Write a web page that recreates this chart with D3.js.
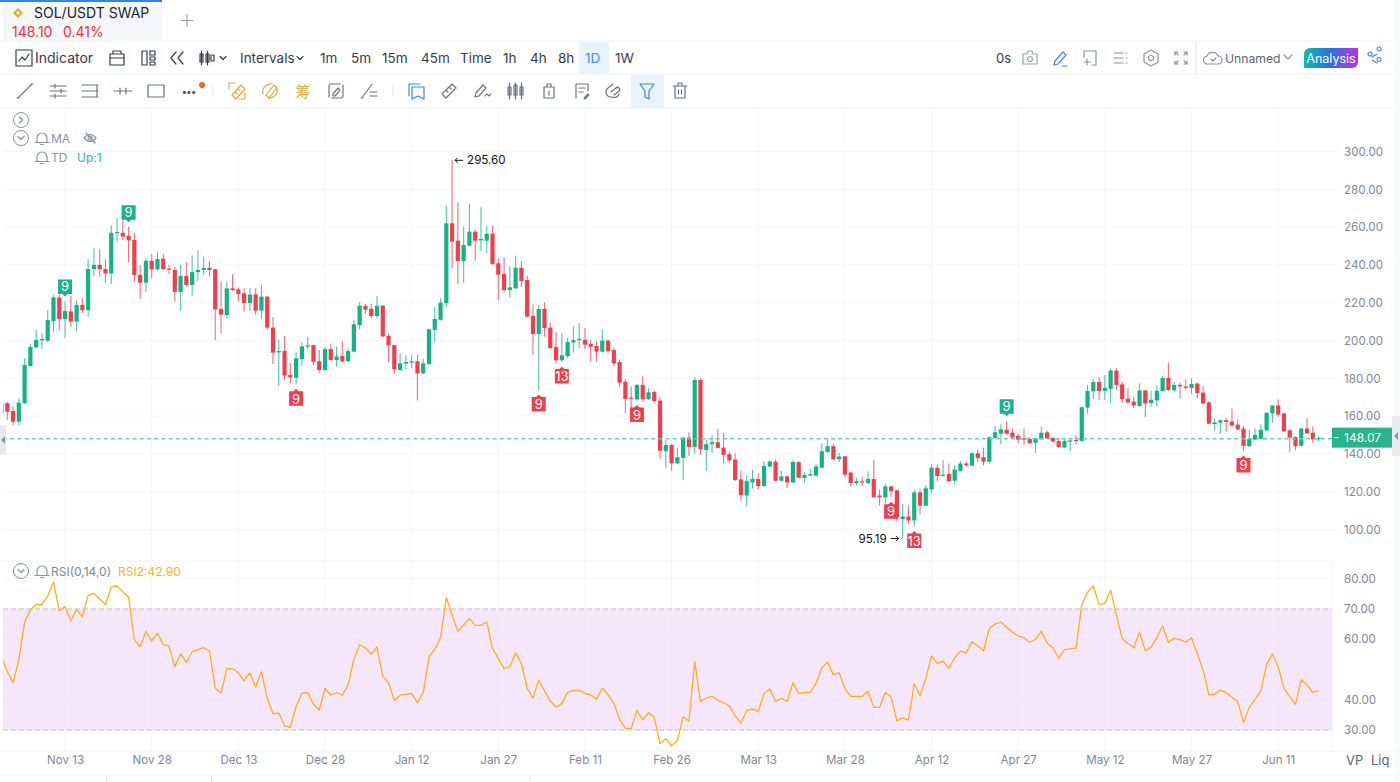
<!DOCTYPE html>
<html lang="en">
<head>
<meta charset="UTF-8"/>
<title>SOL/USDT SWAP</title>
<script src="https://d3js.org/d3.v7.min.js"></script>
<style>
  html, body { margin: 0; padding: 0; background: #fff; overflow: hidden; }
  svg { display: block; font-family: Inter, 'Noto Sans', sans-serif; }
  .axis path.domain, .axis line { display: none; }
  .axis text { fill: #7f8896; font-size: 11.6px; font-family: Inter, sans-serif; }
  .grid line { stroke: #f5f6f8; stroke-width: 1; }
  .bar-text { fill: #333c49; font-size: 13.5px; }
  .icon { fill: none; stroke: #5b6573; stroke-width: 1.2; stroke-linejoin: round; stroke-linecap: round; }
</style>
</head>
<body>
<svg id="chart" width="1400" height="782"></svg>
<script>
const firstDay = '2024-11-02';
const lastDay = '2025-06-18';

const opens = [
  166.8,166.8,162.7,157.0,166.8,186.5,196.4,200.1,199.9,210.3,
  222.8,211.4,215.4,210.0,218.8,216.0,237.8,240.0,237.8,235.5,
  256.9,257.0,255.3,253.2,234.7,230.6,242.2,237.7,243.3,238.0,
  237.3,225.7,234.1,229.4,236.2,237.3,238.5,237.7,216.7,213.5,
  227.6,227.1,225.0,219.8,224.4,215.8,223.2,206.8,193.7,194.4,
  181.8,180.3,190.2,196.8,197.6,189.0,184.4,195.5,189.7,191.8,
  189.0,194.1,208.2,218.3,216.8,213.0,218.4,202.4,197.6,184.4,
  187.8,188.3,189.0,182.6,187.6,205.6,210.9,219.7,262.0,252.8,
  242.1,250.2,257.6,253.0,252.8,256.5,240.8,235.2,226.7,227.6,
  238.5,232.0,213.0,203.4,216.7,206.8,196.6,189.5,191.8,199.0,
  200.3,200.3,198.2,197.1,194.1,199.9,195.0,188.6,178.2,169.8,
  168.9,176.5,168.9,172.8,168.2,141.5,144.7,135.0,137.9,148.7,
  143.7,179.1,142.1,145.1,146.2,143.3,139.8,137.0,126.5,118.0,
  124.9,126.7,123.0,133.3,135.9,125.8,128.1,124.9,135.6,127.3,
  128.5,128.5,132.7,141.1,144.1,137.2,138.7,130.1,124.6,125.5,
  124.6,126.7,118.0,117.0,122.8,120.7,105.5,106.9,104.8,119.6,
  112.6,121.2,132.7,128.3,129.4,125.8,131.0,134.9,133.8,140.3,
  138.2,135.9,148.5,150.7,152.8,151.2,149.5,148.2,147.9,145.9,
  147.7,151.4,148.4,146.8,143.4,146.4,147.5,146.8,164.5,173.1,
  178.0,173.4,174.5,184.1,176.8,169.2,167.6,165.4,173.6,166.9,
  168.3,173.3,180.2,173.6,176.5,175.7,174.9,177.2,172.4,167.2,
  155.8,156.6,157.8,157.1,155.5,153.4,144.1,147.5,148.0,152.5,
  161.4,165.6,161.4,152.5,148.9,144.3,153.4,151.2,147.9
];
const closes = [
  161.5,162.3,157.0,167.1,187.0,196.6,200.3,200.8,210.8,222.8,
  211.4,215.6,210.0,218.8,216.0,237.8,240.0,237.8,235.5,257.0,
  257.4,255.0,253.0,234.7,230.6,242.2,237.7,243.1,237.7,237.5,
  225.7,234.1,229.4,236.2,237.3,238.4,237.3,216.5,213.7,227.6,
  226.7,224.6,219.8,224.3,215.8,223.2,206.8,193.6,194.4,181.4,
  180.5,190.6,196.9,197.5,188.8,184.4,195.5,189.7,191.6,189.0,
  194.4,208.6,218.4,216.3,213.0,218.4,202.2,197.4,184.8,187.9,
  188.6,189.0,182.6,187.9,205.9,211.4,220.0,262.0,252.3,242.1,
  250.5,257.6,252.8,253.7,256.5,240.5,234.8,226.7,228.1,238.5,
  231.5,212.6,203.4,216.7,206.6,196.0,189.5,192.2,199.2,200.3,
  200.8,197.8,196.7,194.1,199.9,194.4,187.9,177.7,169.1,169.2,
  176.5,168.9,172.6,168.0,141.7,144.7,135.0,138.2,148.7,143.7,
  179.1,142.5,145.1,146.2,143.2,139.5,136.6,126.2,118.2,125.6,
  126.7,123.0,133.6,135.9,125.8,128.1,124.9,135.7,127.4,128.8,
  129.2,133.4,141.4,144.1,137.2,138.6,129.0,124.6,125.6,124.9,
  126.7,117.1,117.1,122.8,120.3,106.5,106.9,104.8,119.6,112.6,
  121.8,132.7,128.3,129.0,125.6,131.7,134.9,134.0,140.3,137.9,
  135.9,148.8,151.5,153.0,150.7,148.7,147.5,147.7,145.7,148.2,
  151.2,148.2,146.6,143.6,146.8,147.1,146.8,164.7,173.3,178.0,
  173.3,174.9,184.1,176.5,169.0,167.2,165.6,173.6,166.7,168.6,
  173.4,180.2,173.8,176.5,175.7,175.0,177.0,172.2,166.7,156.0,
  156.7,157.8,156.9,155.1,153.0,144.3,148.0,150.0,152.8,161.7,
  165.6,160.8,151.9,148.6,144.1,153.4,150.9,147.7,148.4
];
const highs = [
  167.6,167.6,165.3,169.4,190.6,198.1,205.6,203.8,216.0,224.4,
  224.4,220.9,223.5,221.4,222.3,243.0,248.8,248.2,243.0,261.0,
  264.8,267.3,260.2,257.0,240.0,243.5,245.8,247.0,245.8,240.0,
  239.1,240.0,241.4,245.1,247.7,244.4,242.1,238.0,231.1,231.0,
  235.0,228.1,227.6,227.6,227.6,229.4,223.5,212.3,200.3,202.4,
  187.9,194.1,199.2,202.0,197.6,195.0,196.7,198.0,196.7,199.6,
  195.7,210.9,220.2,219.3,219.3,223.5,218.8,203.8,197.6,193.2,
  192.2,192.2,192.3,190.4,206.4,217.6,222.3,271.2,295.6,273.1,
  260.2,272.2,258.8,270.5,260.6,260.6,243.5,244.0,239.1,244.9,
  242.1,234.3,219.1,218.8,220.2,209.4,204.3,203.8,201.5,207.7,
  209.3,206.6,200.3,199.4,205.6,200.6,195.9,190.0,179.5,175.6,
  177.0,180.9,174.9,173.5,169.8,147.4,145.2,143.3,148.7,151.5,
  180.5,180.0,147.6,149.9,153.3,151.1,141.2,140.2,131.3,128.7,
  131.7,129.9,136.3,136.6,137.0,131.0,128.7,136.6,136.3,130.3,
  132.2,134.5,145.5,148.1,145.5,140.5,138.7,130.4,127.4,127.8,
  130.8,136.6,121.0,124.2,123.2,121.0,113.6,112.7,121.1,121.6,
  123.4,134.5,134.0,136.6,134.9,134.0,136.3,135.9,141.0,142.3,
  143.3,149.4,154.7,155.7,157.5,153.4,150.7,153.4,148.9,148.6,
  154.3,152.5,148.9,148.4,148.6,148.0,149.8,164.7,176.5,179.5,
  180.5,181.8,185.3,185.3,178.2,174.7,170.2,177.3,173.8,173.4,
  176.5,181.3,188.4,178.2,177.7,179.5,180.0,177.9,175.9,167.9,
  158.7,158.2,159.0,164.0,158.2,154.8,152.8,153.4,155.7,162.1,
  165.8,168.8,161.9,152.8,149.3,153.9,159.0,154.6,149.3
];
const lows = [
  159.7,157.9,155.3,155.3,166.4,186.2,196.0,195.5,199.2,204.7,
  205.4,201.2,207.3,204.9,214.6,212.6,234.1,233.8,230.6,229.9,
  251.8,253.2,241.4,231.1,222.1,225.8,233.1,237.0,237.7,235.2,
  220.6,215.6,228.5,223.6,231.5,234.5,233.8,200.3,203.8,211.7,
  226.2,220.6,215.4,215.8,213.5,211.4,205.6,187.6,175.9,179.1,
  177.3,176.8,186.7,195.5,187.0,183.0,184.0,189.3,186.2,188.3,
  188.3,193.8,205.9,214.0,211.7,211.7,201.9,188.6,182.3,184.0,
  184.6,185.5,168.2,182.3,187.2,198.9,210.5,217.9,238.2,229.7,
  230.6,249.7,242.2,247.4,246.1,240.0,221.1,225.3,222.8,227.1,
  228.5,212.3,192.3,173.8,202.0,195.5,187.8,188.6,190.9,193.7,
  195.9,195.5,188.8,188.8,193.7,193.7,186.5,175.2,161.5,163.8,
  168.2,168.0,168.5,167.1,137.7,132.4,131.1,134.7,126.0,138.9,
  140.2,139.6,131.0,140.5,142.8,134.9,135.7,125.7,115.4,112.2,
  121.6,121.1,122.6,132.7,125.7,125.7,122.1,124.6,127.3,124.9,
  128.3,128.1,132.4,140.5,136.6,135.7,127.6,122.8,123.3,123.0,
  123.9,117.1,112.6,113.6,117.1,104.1,95.19,103.0,101.6,108.3,
  112.4,119.6,125.6,128.1,125.3,123.7,130.6,133.1,133.4,135.7,
  134.0,134.9,148.1,145.0,150.2,147.9,145.7,144.7,145.0,140.6,
  147.5,147.9,146.1,143.4,143.1,141.5,145.0,146.4,161.4,169.0,
  168.5,168.5,166.7,173.8,167.0,166.7,164.4,164.9,159.6,164.9,
  165.3,172.9,173.4,172.9,169.3,174.1,171.7,169.3,166.3,155.5,
  152.5,150.7,151.9,154.3,152.5,141.5,143.6,147.1,147.7,152.1,
  156.6,159.6,151.6,140.9,141.8,144.0,150.7,145.9,146.8
];
const rsiValues = [
  54.2,49.3,45.6,53.1,65.8,69.7,71.5,71.5,74.3,79.0,
  69.4,70.8,66.0,69.9,67.4,74.5,75.2,73.3,71.5,77.2,
  77.6,75.7,73.9,59.8,57.5,62.6,59.5,62.0,58.2,57.8,
  50.9,55.1,52.4,55.8,56.6,57.2,56.2,43.9,42.1,50.4,
  50.3,48.9,46.2,48.9,44.2,49.3,40.5,35.4,35.6,31.4,
  30.9,37.7,42.1,42.4,38.5,36.6,43.8,41.5,42.4,41.5,
  45.0,53.4,58.2,57.1,55.0,57.5,47.8,45.6,39.8,41.5,
  41.8,42.1,39.0,42.3,54.2,56.7,60.5,73.7,68.0,62.6,
  64.7,66.9,64.6,64.6,65.7,57.0,53.7,50.3,51.0,55.5,
  52.0,43.8,40.5,46.5,43.0,39.5,37.5,38.8,42.4,43.1,
  43.1,42.1,41.6,40.2,43.9,41.6,38.8,33.6,30.5,30.5,
  36.4,33.4,35.7,34.1,25.5,27.1,24.8,26.5,34.4,32.9,
  52.6,39.4,40.6,41.1,39.9,39.0,38.0,34.7,32.3,36.4,
  37.0,36.1,42.1,43.6,39.4,40.5,39.4,45.6,42.2,42.4,
  42.4,45.4,50.6,52.4,48.3,48.9,43.7,41.1,41.1,41.1,
  42.8,37.5,37.5,42.4,40.9,33.0,34.0,33.3,45.3,41.3,
  47.1,54.5,52.0,52.8,50.4,53.9,56.1,55.5,59.2,57.8,
  56.2,63.6,65.0,65.7,63.9,62.3,61.0,60.5,59.0,60.0,
  62.6,58.8,57.2,53.7,56.6,56.8,57.1,71.3,75.5,77.6,
  71.5,71.8,76.2,68.0,60.2,58.6,57.2,62.3,56.2,57.4,
  60.6,64.4,59.0,60.3,59.9,59.0,60.5,55.3,49.8,41.6,
  41.8,43.2,42.3,40.8,39.4,32.5,37.4,40.1,42.9,51.7,
  55.1,50.9,43.8,41.1,38.5,46.6,44.9,42.4,42.9
];

const priceTicks = [300, 280, 260, 240, 220, 200, 180, 160, 140, 120, 100];
const rsiTicks = [80, 70, 60, 40, 30];
const dateTicks = ['2024-11-13','2024-11-28','2024-12-13','2024-12-28','2025-01-12','2025-01-27',
  '2025-02-11','2025-02-26','2025-03-13','2025-03-28','2025-04-12','2025-04-27','2025-05-12','2025-05-27','2025-06-11'];

const tdDays = ['2024-11-13','2024-11-24','2025-04-25','2024-12-23','2025-02-03','2025-02-07','2025-02-20','2025-04-05','2025-04-09','2025-06-05'];
const tdLabels = ['9','9','9','9','9','13','9','9','13','9'];
const tdUp = [true, true, true, false, false, false, false, false, false, false];

const lastPrice = 148.07;
const maxPrice = 295.60;
const minPrice = 95.19;
const rsiBand = [30, 70];

const days = d3.utcDay.range(new Date(firstDay), d3.utcDay.offset(new Date(lastDay), 1));
const candles = days.map((d, i) => ({ d, o: opens[i], h: highs[i], l: lows[i], c: closes[i], rsi: rsiValues[i] }));

const UP = '#13b386', DOWN = '#ef3e4d';
const svg = d3.select('#chart');

const x = d3.scaleUtc().domain([new Date(firstDay), new Date(lastDay)]).range([1.5, 1318.6]);
const yPrice = d3.scaleLinear().domain([100, 300]).range([529.5, 151.5]);
const yRsi = d3.scaleLinear().domain([30, 70]).range([730, 609]);

const plotLeft = 3, plotRight = 1332;

svg.append('defs').append('clipPath').attr('id', 'plot')
  .append('rect').attr('x', plotLeft).attr('y', 108).attr('width', plotRight - plotLeft).attr('height', 643);

// grid
const grid = svg.append('g').attr('class', 'grid');
grid.selectAll('.v').data(dateTicks).enter().append('line')
  .attr('x1', d => x(new Date(d))).attr('x2', d => x(new Date(d)))
  .attr('y1', 108).attr('y2', 751);
grid.selectAll('.h').data(priceTicks).enter().append('line')
  .attr('x1', plotLeft).attr('x2', 1338)
  .attr('y1', d => yPrice(d)).attr('y2', d => yPrice(d));

// rsi band sits over the grid
svg.append('rect')
  .attr('x', plotLeft).attr('width', plotRight - plotLeft)
  .attr('y', yRsi(rsiBand[1])).attr('height', yRsi(rsiBand[0]) - yRsi(rsiBand[1]))
  .attr('fill', '#f5e6fb');
const rsiGrid = svg.append('g').attr('class', 'grid');
rsiGrid.selectAll('line').data(rsiTicks).enter().append('line')
  .attr('x1', plotLeft).attr('x2', plotRight)
  .attr('y1', d => yRsi(d)).attr('y2', d => yRsi(d))
  .style('stroke', d => (d === 80 ? '#f5f6f8' : '#f1e5f6'));
rsiGrid.selectAll('.vb').data(dateTicks).enter().append('line')
  .attr('x1', d => x(new Date(d))).attr('x2', d => x(new Date(d)))
  .attr('y1', yRsi(70)).attr('y2', yRsi(30))
  .style('stroke', '#f1e5f6');
svg.selectAll('.band-edge').data(rsiBand).enter().append('line')
  .attr('x1', plotLeft).attr('x2', plotRight)
  .attr('y1', d => yRsi(d)).attr('y2', d => yRsi(d))
  .attr('stroke', '#c9c4cd').attr('stroke-width', 1.2).attr('stroke-dasharray', '5 3');

// panel dividers
const rules = [[0, 41, 1400, 41], [0, 74, 1400, 74], [0, 108, 1400, 108], [3, 561, 1332, 561],
  [3, 751, 1395, 751], [0, 775, 1400, 775], [1332, 561, 1332, 751]];
svg.selectAll('.rule').data(rules).enter().append('line')
  .attr('x1', d => d[0]).attr('y1', d => d[1]).attr('x2', d => d[2]).attr('y2', d => d[3])
  .attr('stroke', '#f0f2f4').attr('stroke-width', 1);

// candles
const plot = svg.append('g').attr('clip-path', 'url(#plot)');
const bars = plot.selectAll('.candle').data(candles).enter().append('g').attr('class', 'candle');
bars.append('line')
  .attr('x1', d => x(d.d)).attr('x2', d => x(d.d))
  .attr('y1', d => yPrice(d.h)).attr('y2', d => yPrice(d.l))
  .attr('stroke', d => (d.c >= d.o ? UP : DOWN))
  .attr('stroke-width', 1.1).attr('stroke-opacity', 0.75);
bars.append('rect')
  .attr('x', d => x(d.d) - 2.1).attr('width', 4.2)
  .attr('y', d => yPrice(Math.max(d.o, d.c)))
  .attr('height', d => Math.max(1.2, Math.abs(yPrice(d.o) - yPrice(d.c))))
  .attr('fill', d => (d.c >= d.o ? UP : DOWN));

// last price line
svg.append('line')
  .attr('x1', plotLeft).attr('x2', plotRight)
  .attr('y1', yPrice(lastPrice)).attr('y2', yPrice(lastPrice))
  .attr('stroke', '#6ccdaf').attr('stroke-width', 1.5).attr('stroke-dasharray', '4 3.2');

// rsi line
const rsiLine = d3.line().x(d => x(d.d)).y(d => yRsi(d.rsi));
plot.append('path').datum(candles)
  .attr('d', rsiLine).attr('fill', 'none')
  .attr('stroke', '#fbb01c').attr('stroke-width', 1.3).attr('stroke-linejoin', 'round');

// TD sequential tags
tdDays.forEach((day, i) => {
  const c = candles.find(k => +k.d === +new Date(day));
  const cx = x(c.d);
  const g = svg.append('g');
  const color = tdUp[i] ? '#19b28a' : '#ef3e4d';
  if (tdUp[i]) {
    const tip = yPrice(c.h) - 4.5;
    g.append('path').attr('fill', color)
      .attr('d', `M${cx - 7},${tip - 17} h14 v14.5 h-4.5 L${cx},${tip} L${cx - 2.5},${tip - 2.5} h-4.5 Z`);
    g.append('text').attr('x', cx).attr('y', tip - 5.2).attr('text-anchor', 'middle')
      .attr('fill', '#fff').attr('font-size', 13).text(tdLabels[i]);
  } else {
    const tip = yPrice(c.l) + 4.5;
    g.append('path').attr('fill', color)
      .attr('d', `M${cx - 7},${tip + 17} h14 v-14.5 h-4.5 L${cx},${tip} L${cx - 2.5},${tip + 2.5} h-4.5 Z`);
    g.append('text').attr('x', cx).attr('y', tip + 14.8).attr('text-anchor', 'middle')
      .attr('fill', '#fff').attr('font-size', 13).text(tdLabels[i]);
  }
});

// hi/lo annotations
const hiDay = candles.find(k => k.h === maxPrice);
const loDay = candles.find(k => k.l === minPrice);
const arrowMark = (x1, x2, y) => {
  const s = x2 > x1 ? -1 : 1;
  svg.append('path').attr('fill', 'none').attr('stroke', '#111').attr('stroke-width', 1)
    .attr('d', `M${x1},${y} L${x2},${y} M${x2 + s * 2.5},${y - 2.5} L${x2},${y} L${x2 + s * 2.5},${y + 2.5}`);
};
arrowMark(x(hiDay.d) + 11, x(hiDay.d) + 3, yPrice(maxPrice) + 0.5);
svg.append('text').attr('x', x(hiDay.d) + 15).attr('y', yPrice(maxPrice) + 4.5)
  .attr('font-size', 11.6).attr('fill', '#111').text(maxPrice.toFixed(2));
arrowMark(x(loDay.d) - 12, x(loDay.d) - 4, yPrice(minPrice));
svg.append('text').attr('x', x(loDay.d) - 16).attr('y', yPrice(minPrice) + 4)
  .attr('text-anchor', 'end').attr('font-size', 11.6).attr('fill', '#111').text(minPrice.toFixed(2));

// axes
svg.append('g').attr('class', 'axis').attr('transform', 'translate(1338,0)')
  .call(d3.axisRight(yPrice).tickValues(priceTicks).tickSize(0).tickPadding(6).tickFormat(d3.format('.2f')));
svg.append('g').attr('class', 'axis').attr('transform', 'translate(1338,0)')
  .call(d3.axisRight(yRsi).tickValues(rsiTicks).tickSize(0).tickPadding(6).tickFormat(d3.format('.2f')));
svg.append('g').attr('class', 'axis').attr('transform', 'translate(0,751)')
  .call(d3.axisBottom(x).tickValues(dateTicks.map(d => new Date(d))).tickSize(0).tickPadding(5)
    .tickFormat(d3.utcFormat('%b %d')));

// last price tag
svg.append('rect').attr('x', 1332).attr('y', yPrice(lastPrice) - 11).attr('width', 60).attr('height', 20)
  .attr('fill', '#27b48b');
svg.append('line').attr('x1', 1334).attr('x2', 1339).attr('y1', yPrice(lastPrice) - 1).attr('y2', yPrice(lastPrice) - 1)
  .attr('stroke', '#fff');
svg.append('text').attr('x', 1344).attr('y', yPrice(lastPrice) + 3.4)
  .attr('fill', '#fff').attr('font-size', 12).text(lastPrice.toFixed(2));

// side handles
svg.append('rect').attr('x', 0).attr('y', 425).attr('width', 6).attr('height', 30).attr('fill', '#e8eaed');
svg.append('path').attr('d', 'M1,440 l4,-4 v8 Z').attr('fill', '#8a93a0');
svg.append('rect').attr('x', 1392).attr('y', 416).attr('width', 8).attr('height', 40).attr('fill', '#e8eaed');
svg.append('path').attr('d', 'M1394,436 l4,-4 v8 Z').attr('fill', '#8a93a0');
svg.append('rect').attr('x', 1395).attr('y', 0).attr('width', 5).attr('height', 416).attr('fill', '#fafbfb');
svg.append('rect').attr('x', 1395).attr('y', 456).attr('width', 5).attr('height', 326).attr('fill', '#fafbfb');

// ---- app chrome ----
svg.append('rect').attr('x', 3).attr('y', 2).attr('width', 159).attr('height', 39).attr('fill', '#f5f6f8');
svg.append('rect').attr('x', 0).attr('y', 0).attr('width', 162).attr('height', 2).attr('fill', '#2f86e8');
svg.append('path').attr('d', 'M18,8 l5,5 -5,5 -5,-5 Z M18,11 l2,2 -2,2 -2,-2 Z').attr('fill', '#f0a52c').attr('fill-rule', 'evenodd');
svg.append('text').attr('x', 34).attr('y', 18).attr('font-size', 14).attr('fill', '#1c2430').text('SOL/USDT SWAP');
svg.append('text').attr('x', 12).attr('y', 37).attr('font-size', 14).attr('fill', '#f0303f').text('148.10');
svg.append('text').attr('x', 63).attr('y', 37).attr('font-size', 14).attr('fill', '#f0303f').text('0.41%');
svg.append('path').attr('d', 'M187,14 v13 M180.5,20.5 h13').attr('stroke', '#9aa2ad').attr('stroke-width', 1.2);

const barLabels = ['Indicator', 'Intervals', '1m', '5m', '15m', '45m', 'Time', '1h', '4h', '8h', '1W', '0s', 'Unnamed'];
const barX = [35, 240, 320, 351, 382, 421, 460, 503, 530, 558, 615, 996, 1225];
const barSize = [14, 13.5, 13.5, 13.5, 13.5, 13.5, 13.5, 13.5, 13.5, 13.5, 13.5, 13, 12.2];
svg.append('rect').attr('x', 579).attr('y', 42).attr('width', 30).attr('height', 32).attr('fill', '#eaf3fc');
svg.append('text').attr('x', 585).attr('y', 62.5).attr('class', 'bar-text').style('fill', '#3d8fe6').text('1D');
svg.selectAll('.bar-label').data(barLabels).enter().append('text')
  .attr('class', 'bar-text')
  .attr('x', (d, i) => barX[i]).attr('y', 62.5)
  .style('font-size', (d, i) => barSize[i] + 'px')
  .style('fill', d => (d === 'Unnamed' ? '#5b6573' : '#333c49'))
  .text(d => d);

const icon = (cx, cy, d, color) => svg.append('path').attr('class', 'icon')
  .attr('transform', `translate(${cx},${cy})`).attr('d', d).style('stroke', color || null);

// row 1 icons
icon(24, 58, 'M-8,-8 h16 v16 h-16 Z M-5,3 l3,-4 3,3 4,-6', '#333c49');
icon(117, 58, 'M-7,-4 h14 v11 h-14 Z M-7,0 h14 M-4,-4 v-3 h8 v3', '#333c49');
icon(148, 58, 'M-6,-7 h5 v14 h-5 Z M2,-7 h5 v4 h-5 Z M2,-1 h5 v3 h-5 Z M2,4 h5 v3 h-5 Z', '#333c49');
icon(177, 58, 'M-1,-6 l-5,6 5,6 M6,-6 l-5,6 5,6', '#333c49');
icon(205, 58, 'M-5,-4 h3 v8 h-3 Z M1,-4 h3 v8 h-3 Z M6,-3 h3 v6 h-3 Z M-3.5,-7 v14 M2.5,-7 v14', '#333c49');
icon(223, 58, 'M-3,-1.5 l3,3 3,-3', '#333c49');
icon(300, 58, 'M-3,-1.5 l3,3 3,-3', '#333c49');
icon(1030, 58, 'M-7,-4 h4 l1,-3 h4 l1,3 h4 v10 h-14 Z M2.5,1 a2.5,2.5 0 1 1 -5,0 a2.5,2.5 0 1 1 5,0', '#9aa2ad');
icon(1060, 58, 'M-6,7 l1,-4 8,-9 3,3 -8,9 Z M2,8 h5', '#3d86e6');
icon(1090, 58, 'M-6,-1 v-6 h12 v14 h-4 M-6,4 h6 M-3,1 v6', '#8a93a0');
icon(1120, 58, 'M-6,-5 h9 M-6,0 h9 M-6,5 h9 M6,-5 h1 M6,0 h1 M6,5 h1', '#8a93a0');
icon(1151, 58, 'M0,-8 l7,4 v8 l-7,4 -7,-4 v-8 Z M2.5,0 a2.5,2.5 0 1 1 -5,0 a2.5,2.5 0 1 1 5,0', '#8a93a0');
icon(1181, 58, 'M-6,-6 l3,3 M-6,-6 h3 M-6,-6 v3 M6,-6 l-3,3 M6,-6 h-3 M6,-6 v3 M-6,6 l3,-3 M-6,6 h3 M-6,6 v-3 M6,6 l-3,-3 M6,6 h-3 M6,6 v-3', '#8a93a0');
icon(1213, 58, 'M-5,6 a4,4 0 0 1 -1,-8 a6,6 0 0 1 11,0 a4,4 0 0 1 0,8 Z M-2,1 l2,2 3,-3', '#8a93a0');
icon(1288, 57, 'M-4,-2 l4,4 4,-4', '#8a93a0');
svg.append('line').attr('x1', 1196).attr('x2', 1196).attr('y1', 42).attr('y2', 74).attr('stroke', '#e3e5e8');

const gradient = svg.select('defs').append('linearGradient').attr('id', 'analysis');
gradient.append('stop').attr('offset', '0%').attr('stop-color', '#10b8ab');
gradient.append('stop').attr('offset', '50%').attr('stop-color', '#2c6fe6');
gradient.append('stop').attr('offset', '100%').attr('stop-color', '#bb30ea');
svg.append('path').attr('fill', 'url(#analysis)')
  .attr('d', 'M1310,48 h48 v14 a6,6 0 0 1 -6,6 h-48 v-14 a6,6 0 0 1 6,-6 Z');
svg.append('text').attr('x', 1331).attr('y', 62.5).attr('text-anchor', 'middle').attr('font-size', 12.5)
  .attr('fill', '#fff').text('Analysis');
icon(1375, 58, 'M4,-7 a2,2 0 1 1 0.1,0 M4,3.5 a2,2 0 1 1 0.1,0 M-5,-2 a2,2 0 1 1 0.1,0 M-3,-1 l5,-3 M-3,2 l5,3', '#3d86e6');

// row 2 icons
const dark = '#6a7481', gold = '#dcab3a', blue = '#3d86e6';
icon(25, 91, 'M-7,7 L7,-7 M-7,7 m-1,0 h2 M7,-7 m-1,0 h2', dark);
icon(58, 91, 'M-8,-5 h16 M-8,0 h16 M-8,5 h16 M-3,-7 v4 M3,-2 v4 M-3,3 v4', dark);
icon(90, 91, 'M-8,-6 h16 M-8,0 h16 M-8,6 h16 M7,-6 v12', dark);
icon(123, 91, 'M-9,0 h18 M-3,-3 v6 M3,-3 v6', dark);
icon(156, 91, 'M-8,-6 h16 v12 h-16 Z', dark);
svg.append('text').attr('x', 189).attr('y', 95).attr('text-anchor', 'middle').attr('font-size', 10)
  .attr('font-weight', 700).attr('fill', '#4a5461').text('•••');
svg.append('circle').attr('cx', 202).attr('cy', 85).attr('r', 3).attr('fill', '#f4622e');
svg.append('line').attr('x1', 213).attr('x2', 213).attr('y1', 85).attr('y2', 97).attr('stroke', '#e3e5e8');
icon(237, 91, 'M-8,-2 v-6 h6 M8,2 v6 h-6 M-5,4 L4,-6 L8,-2 L-1,8 Z M-2,1 l2,2 M1,-2 l2,2', gold);
icon(270, 91, 'M-7,3 a8,8 0 0 1 9,-10 M7,-3 a8,8 0 0 1 -9,10 M-4,4 L4,-6 L7,-3 L-1,7 Z', gold);
svg.append('text').attr('x', 303).attr('y', 97).attr('text-anchor', 'middle').attr('font-size', 15)
  .attr('font-family', "'Noto Sans CJK SC'").attr('fill', gold).text('筹');
icon(336, 91, 'M-7,6 v-11 a2,2 0 0 1 2,-2 h9 M7,-6 v11 a2,2 0 0 1 -2,2 h-9 M-3,3 l5,-6 2,2 -5,6 h-2 Z', dark);
icon(369, 91, 'M-7,7 L3,-7 M-7,7 m-1,0 h2 M1,1 h7 M1,5 h7', dark);
svg.append('line').attr('x1', 393).attr('x2', 393).attr('y1', 85).attr('y2', 97).attr('stroke', '#e3e5e8');
icon(417, 91, 'M-8,5 v-12 h11 M-5,-4 h12 v12 l-6,-3 -6,3 Z', blue);
icon(449, 91, 'M-7,3 L3,-7 L7,-3 L-3,7 Z M-3,-1 l2,2 M0,-4 l2,2', dark);
icon(482, 91, 'M-7,6 l1,-4 7,-8 3,3 -7,8 Z M3,5 q2,-3 3,-1 t3,-1', dark);
icon(516, 91, 'M-8,-4 h3 v8 h-3 Z M-2,-6 h3 v10 h-3 Z M4,-4 h3 v8 h-3 Z M-6.5,-8 v16 M-0.5,-8 v16 M5.5,-8 v16', dark);
icon(549, 91, 'M-5,-4 h10 v11 h-10 Z M-2,-4 v-3 h4 v3 M0,0 v4', dark);
icon(582, 91, 'M-6,7 v-14 h12 v7 M-3,-3 h6 M-3,1 h4 M2,7 l4,-4 1,1 -4,4 Z', dark);
icon(614, 91, 'M-3,6 a5,5 0 0 1 -3,-9 l5,-4 M5,3 a5,5 0 0 1 -7,3 M-3,1 l5,-4 a2,2 0 0 1 3,3 l-5,4', dark);
svg.append('rect').attr('x', 631).attr('y', 75).attr('width', 33).attr('height', 33).attr('fill', '#eaf3fc');
icon(647, 91, 'M-7,-7 h14 l-5,7 v8 l-4,-2 v-6 Z', blue);
icon(680, 91, 'M-7,-5 h14 M-5,-5 v12 h10 v-12 M-2,-5 v-3 h4 v3 M-1.5,-1 v4 M1.5,-1 v4', dark);

// legend rows
const legendCircle = (cx, cy, d) => {
  svg.append('circle').attr('cx', cx).attr('cy', cy).attr('r', 7.5).attr('fill', 'none').attr('stroke', '#8a93a0');
  icon(cx, cy, d, '#8a93a0');
};
legendCircle(21, 120, 'M-1.5,-3 l3,3 -3,3');
legendCircle(21, 138, 'M-3,-1.5 l3,3 3,-3');
legendCircle(21, 571, 'M-3,-1.5 l3,3 3,-3');
const bell = 'M-7,4.5 h14 M-5,4.5 v-4.5 a5,5 0 0 1 10,0 v4.5 M-1.5,6.5 h3';
icon(42, 138, bell, '#8a93a0');
icon(42, 157, bell, '#8a93a0');
icon(42, 571, bell, '#8a93a0');
icon(90, 138, 'M-6,0 q6,-7 12,0 q-6,7 -12,0 Z M-4,-5 L5,5 M2,0 a2,2 0 1 1 -4,0 a2,2 0 1 1 4,0', '#8a93a0');
const legendText = [
  ['MA', 51, 142.5, '#8a93a0'], ['TD', 51, 161.5, '#8a93a0'], ['Up:1', 77, 161.5, '#2ab88f'],
  ['RSI(0,14,0)', 51, 575.5, '#7f8896'], ['RSI2:42.90', 118, 575.5, '#fbb01c']
];
svg.selectAll('.legend').data(legendText).enter().append('text')
  .attr('x', d => d[1]).attr('y', d => d[2]).attr('font-size', 12).attr('fill', d => d[3]).text(d => d[0]);

// bottom corner
svg.append('text').attr('x', 1346).attr('y', 765).attr('font-size', 13).attr('fill', '#5b6573').text('VP');
svg.append('text').attr('x', 1371).attr('y', 765).attr('font-size', 13).attr('fill', '#5b6573').text('Liq');
[106.5, 211.5, 530].forEach(p => {
  svg.append('line').attr('x1', p).attr('x2', p).attr('y1', 775).attr('y2', 782).attr('stroke', '#dfe2e6');
});
</script>
</body>
</html>
